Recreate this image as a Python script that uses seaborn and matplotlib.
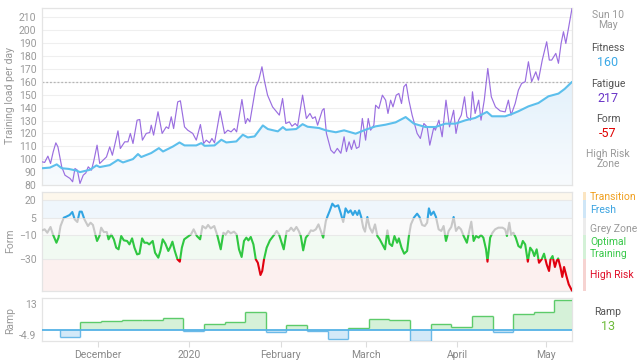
import numpy as np
import pandas as pd
import matplotlib
matplotlib.use('Agg')
import matplotlib.pyplot as plt
import matplotlib.dates as mdates
import matplotlib.transforms as mtransforms
from matplotlib.patches import Rectangle
from matplotlib.colors import LinearSegmentedColormap
import seaborn as sns

sns.set_theme(style='white')
plt.rcParams['font.family'] = ['Roboto', 'DejaVu Sans']

# --- data (days counted from 12 Nov 2019) ---
START = '2019-11-12'
N_DAYS = 180

fitness_day = [0, 2.7, 5, 6.7, 9, 11.7, 12.9, 16.3, 18.5, 19.6, 23, 25.8, 27.5, 30.9, 32.6, 33.7,
               37.1, 39.7, 41.1, 44.5, 46.7, 48.4, 52.4, 54.1, 55.2, 58.6, 60.9, 62.6, 66, 68.2,
               69.9, 72.2, 75, 76.7, 80.1, 81.8, 82.9, 86.3, 88.5, 90.2, 94.1, 96.4, 99.8, 102.6,
               106.5, 109.9, 113.3, 116.7, 120.1, 123.5, 126.3, 130.2, 133.6, 137, 140.4, 143.8,
               147.1, 151.1, 152.8, 157.3, 159.6, 161.8, 165.2, 168.6, 172, 175.4, 177.5, 180]
fitness_val = [93.0, 93.5, 96.0, 93.0, 92.5, 91.2, 90.0, 91.8, 95.2, 93.9, 95.4, 99.5, 97.5, 100.1,
               104.0, 101.7, 104.8, 108.6, 106.0, 109.9, 113.0, 110.7, 110.7, 112.5, 110.4, 110.7,
               115.1, 113.0, 113.8, 119.0, 116.9, 117.7, 126.2, 123.4, 121.6, 124.9, 122.8, 123.4,
               127.2, 125.2, 124.2, 122.4, 120.9, 122.4, 119.8, 122.9, 125.5, 126.8, 128.6, 132.7,
               127.6, 125.0, 125.0, 127.6, 127.6, 130.2, 132.0, 136.7, 133.3, 133.3, 135.1, 137.2,
               141.0, 143.6, 148.8, 150.9, 154.5, 160.0]

fatigue_day = [0, 0.9, 2.0, 2.9, 3.8, 4.7, 5.4, 6.7, 7.8, 9.5, 10.4, 11.2, 12.0, 12.9, 14.0, 14.9,
               15.7, 16.8, 17.6, 18.7, 19.6, 20.8, 21.9, 23.0, 23.9, 25.8, 26.6, 28.1, 29.2, 30.0,
               30.9, 32.3, 33.2, 34.1, 35.4, 36.6, 37.1, 37.9, 39.4, 40.8, 42.2, 43.0, 43.9, 44.7,
               46.1, 47.0, 48.4, 49.5, 51.2, 52.4, 53.8, 54.9, 55.8, 56.9, 57.7, 58.6, 60.5, 62.0,
               63.1, 64.2, 65.3, 66.1, 67.9, 69.1, 69.8, 70.6, 72.6, 73.6, 74.7, 75.5, 76.6, 78.3,
               80.6, 81.7, 82.8, 84.0, 84.9, 86.0, 86.8, 88.5, 89.8, 91.0, 91.9, 92.8, 93.6, 95.2,
               95.8, 96.6, 98.1, 99.2, 100.3, 101.5, 102.6, 103.4, 104.3, 105.1, 106.0, 106.8,
               107.7, 108.8, 109.9, 110.8, 111.6, 112.7, 113.3, 114.4, 115.6, 116.7, 117.5, 118.4,
               119.2, 120.3, 121.2, 122.1, 122.9, 123.7, 124.6, 125.7, 127.4, 128.5, 129.7, 130.8,
               131.7, 133.1, 133.6, 134.8, 135.9, 137.2, 138.4, 139.8, 140.6, 141.5, 142.4, 143.5,
               144.3, 145.5, 146.2, 147.1, 148.3, 149.1, 150.2, 151.4, 152.6, 154.0, 155.6, 157.3,
               158.4, 159.3, 160.7, 161.8, 162.9, 164.1, 165.2, 166.3, 167.7, 168.6, 169.9, 171.4,
               172.3, 173.1, 174.5, 175.4, 176.3, 177.1, 177.9, 180.0]
fatigue_val = [98.0, 97.5, 102.4, 96.7, 105.7, 112.7, 109.6, 94.1, 87.6, 85.1, 82.5, 92.8, 91.5,
               81.2, 87.6, 89.4, 94.1, 91.5, 98.8, 110.9, 96.7, 99.3, 101.8, 109.6, 103.1, 122.0,
               108.3, 113.5, 113.5, 120.0, 112.2, 130.3, 130.8, 114.8, 120.0, 120.7, 126.4, 118.7,
               136.8, 120.0, 125.1, 123.8, 132.9, 123.8, 144.5, 145.3, 125.1, 122.5, 120.0, 114.8,
               126.9, 112.2, 114.8, 112.7, 116.1, 112.7, 137.3, 120.0, 122.5, 121.2, 123.8, 121.2,
               146.3, 127.7, 131.6, 129.0, 156.2, 161.3, 171.7, 161.3, 149.7, 140.6, 134.2, 147.1,
               127.7, 129.0, 125.6, 127.7, 125.6, 149.7, 131.6, 135.5, 131.6, 132.9, 126.4, 138.0,
               139.3, 120.0, 107.1, 104.6, 108.4, 104.6, 117.4, 105.9, 113.5, 107.6, 114.8, 108.4,
               109.6, 131.6, 114.8, 131.6, 122.5, 126.4, 141.9, 139.3, 149.7, 145.8, 135.5, 145.8,
               140.6, 149.7, 151.0, 143.2, 156.2, 158.3, 145.8, 134.2, 120.0, 116.1, 127.7, 125.1,
               110.9, 125.1, 122.5, 130.3, 117.4, 145.8, 125.1, 138.0, 120.0, 130.3, 134.2, 148.4,
               132.9, 130.3, 152.3, 135.5, 145.8, 130.3, 145.8, 170.4, 148.4, 140.6, 137.5, 136.7,
               145.8, 134.2, 143.2, 153.6, 158.8, 160.1, 175.6, 160.1, 167.8, 161.3, 176.9, 191.1,
               176.9, 176.9, 182.1, 174.4, 189.8, 198.9, 189.8, 217.0]

form_day = [0.0, 0.9, 1.8, 2.9, 3.7, 4.9, 5.6, 6.3, 7.4, 8.2, 9.4, 10.3, 11.1, 12.0, 12.8, 13.5,
            14.4, 15.6, 16.5, 17.3, 18.1, 18.7, 19.5, 20.1, 21.0, 22.0, 22.6, 23.5, 24.4, 25.2,
            26.0, 26.9, 27.8, 28.9, 29.7, 30.6, 31.4, 32.3, 33.1, 34.0, 34.8, 35.7, 36.4, 37.6,
            38.4, 39.5, 40.2, 41.0, 41.9, 42.9, 43.6, 44.3, 45.1, 46.0, 46.8, 47.5, 48.3, 49.4,
            50.6, 51.5, 52.6, 53.7, 54.5, 55.6, 56.4, 57.3, 58.5, 59.6, 60.7, 61.6, 62.4, 63.2,
            64.1, 65.2, 66.1, 66.9, 67.8, 68.6, 69.4, 70.1, 70.9, 71.8, 72.6, 73.3, 74.2, 74.8,
            75.4, 76.3, 77.4, 78.8, 79.7, 80.5, 81.4, 82.1, 83.1, 83.8, 84.6, 85.5, 86.4, 87.2,
            87.9, 88.7, 89.6, 90.5, 91.3, 92.1, 93.0, 93.9, 94.7, 95.5, 96.4, 97.0, 97.7, 98.6,
            99.5, 100.6, 101.4, 102.3, 103.1, 104.0, 104.8, 105.6, 106.3, 107.1, 107.7, 108.4,
            109.1, 109.7, 110.5, 111.3, 112.2, 113.1, 113.9, 114.7, 115.6, 116.5, 117.3, 118.0,
            118.9, 119.7, 120.6, 121.2, 122.1, 123.0, 124.0, 124.6, 125.3, 126.3, 127.4, 128.2,
            129.1, 130.0, 130.8, 131.4, 132.1, 133.0, 133.8, 134.7, 135.6, 136.4, 137.2, 138.1,
            139.0, 139.8, 140.6, 141.5, 142.3, 143.2, 144.3, 145.1, 145.8, 146.6, 147.4, 148.3,
            149.1, 149.9, 150.8, 151.3, 152.2, 153.0, 153.9, 155.0, 156.4, 157.3, 157.9, 158.7,
            159.3, 160.1, 160.9, 161.8, 162.6, 163.3, 164.1, 165.0, 165.8, 166.6, 167.2, 168.0,
            168.8, 169.7, 170.5, 171.4, 172.2, 172.7, 173.4, 174.2, 174.8, 175.3, 176.1, 176.7,
            177.3, 178.1, 178.9, 180.0]
form_val = [-5.8, -4.9, -7.8, -2.9, -9.2, -16.3, -12.0, -2.1, 5.0, 5.8, 7.3, 9.8, 3.6, 1.3, 10.1,
            10.1, 3.6, -2.1, 0.7, -1.2, -9.2, -14.8, -10.6, -3.5, -7.2, -7.2, -13.4, -9.2, -13.4,
            -20.5, -21.9, -10.6, -14.3, -14.8, -17.7, -12.6, -20.5, -26.2, -25.6, -12.6, -16.3,
            -16.3, -17.7, -14.8, -24.8, -29.0, -23.3, -13.4, -17.1, -23.3, -19.9, -15.4, -23.3,
            -30.4, -32.4, -20.5, -13.4, -11.4, -9.2, -4.9, -10.6, -13.4, -2.1, -4.1, -1.2, -4.1,
            -2.1, -10.6, -21.9, -7.8, -9.2, -6.3, -8.3, -6.9, -9.2, -21.9, -28.4, -14.8, -12.0,
            -14.3, -11.4, -17.7, -30.4, -33.3, -43.7, -40.3, -30.4, -20.5, -14.3, -9.7, -6.3,
            -9.2, -16.3, -21.9, -6.3, -6.3, -3.5, -6.3, -2.9, -6.3, -10.6, -22.8, -12.0, -9.2,
            -5.8, -6.3, -4.9, -0.7, -6.3, -12.0, 2.2, 6.4, 10.7, 16.9, 14.3, 15.5, 9.2, 1.3, 12.9,
            9.2, 11.2, 7.3, 10.7, 7.3, 11.2, 5.6, -3.5, -6.9, 5.6, -3.5, -7.8, -0.7, -10.6, -13.4,
            -17.7, -21.9, -5.8, -17.1, -19.1, -10.6, -16.3, -12.6, -20.5, -25.6, -23.3, -10.6,
            -0.7, 5.0, 8.4, 5.6, -1.2, -2.1, 0.7, 12.9, 7.3, 10.1, 5.6, -4.9, -6.3, -2.1, -14.8,
            -6.3, -2.9, 5.6, -6.3, -2.9, -4.9, -10.6, -16.3, -6.3, 1.6, -14.8, -10.6, -12.0, -9.7,
            -12.0, -21.9, -32.4, -12.0, -7.8, -4.9, -3.5, -3.5, -4.9, -10.6, 0.7, -9.2, -7.8,
            -12.0, -19.1, -20.5, -14.8, -17.7, -32.4, -20.5, -23.3, -27.6, -21.9, -33.3, -30.4,
            -25.6, -34.7, -40.3, -30.4, -27.6, -36.9, -31.8, -29.6, -37.5, -45.4, -36.9, -44.6,
            -51.7, -57.0]

ramp_week = ['2019-11-18', '2019-11-25', '2019-12-02', '2019-12-09', '2019-12-16', '2019-12-23',
             '2019-12-30', '2020-01-06', '2020-01-13', '2020-01-20', '2020-01-27', '2020-02-03',
             '2020-02-10', '2020-02-17', '2020-02-24', '2020-03-02', '2020-03-09', '2020-03-16',
             '2020-03-23', '2020-03-30', '2020-04-06', '2020-04-13', '2020-04-20', '2020-04-27',
             '2020-05-04']
ramp_val = [-3.3, 3.4, 3.8, 4.4, 4.4, 5.1, -0.7, 2.7, 3.4, 8.1, -1.1, 2.0, -0.4, -3.8, 0.8,
            4.7, 4.3, -4.9, 2.7, 1.3, 6.1, -1.1, 7.2, 7.7, 13.0]

zone_names = ['Transition', 'Fresh', 'Grey Zone', 'Optimal\nTraining', 'High Risk']
zone_lo = [20, 5, -10, -30, -100]
zone_hi = [100, 20, 5, -10, -30]

month_ticks = ['2019-12-01', '2020-01-01', '2020-02-01', '2020-03-01', '2020-04-01', '2020-05-01']
month_labels = ['December', '2020', 'February', 'March', 'April', 'May']

# --- styles ---
C_FIT = '#5cbfec'
C_FAT = '#9a6ee0'
C_FORM_LINE = ['#f0a030', '#31a5e3', '#c8c8c8', '#2fc741', '#e1000f']
C_ZONE_BG = ['#fdf7ec', '#eff6fc', '#fafafa', '#f1faf2', '#fcf0ef']
C_ZONE_STRIP = ['#fbe5c2', '#cfe6f7', '#ececec', '#d4f1d7', '#f6d3d1']
C_ZONE_TEXT = ['#f0a020', '#3aa3e0', '#9a9a9a', '#39c84a', '#e0102a']
C_POS_FILL, C_POS_EDGE = '#d5f1d8', '#5ccb6a'
C_NEG_FILL, C_NEG_EDGE = '#d3e9f8', '#6bb9e8'
C_SPINE = '#e4e4e4'
C_TICK = '#9a9a9a'

W, H = 639, 363
t0 = mdates.date2num(pd.Timestamp(START))


def to_x(days):
    return t0 + np.asarray(days, dtype=float)


def box(l, t, r, b):
    return [l / W, 1 - b / H, (r - l) / W, (b - t) / H]


def ftext(x, y, s, **kw):
    kw.setdefault('ha', 'center')
    kw.setdefault('va', 'center')
    fig.text(x / W, 1 - y / H, s, **kw)


fig = plt.figure(figsize=(W / 100, H / 100), dpi=100)
ax1 = fig.add_axes(box(42, 8, 572, 185))
ax2 = fig.add_axes(box(42, 192, 572, 291))
ax3 = fig.add_axes(box(42, 298, 572, 341))

x_lim = (t0, t0 + N_DAYS)
TOP_LIM = (80, 217.3)
FORM_LIM = (-57.3, 26.8)

# --- top: fitness & fatigue ---
df_fit = pd.DataFrame({'x': to_x(fitness_day), 'y': fitness_val})
df_fat = pd.DataFrame({'x': to_x(fatigue_day), 'y': fatigue_val})

poly = ax1.fill_between(df_fit['x'], TOP_LIM[0], df_fit['y'], facecolor='none', edgecolor='none')
grad = np.linspace(1, 0, 256).reshape(-1, 1)
cmap = LinearSegmentedColormap.from_list('fitfill', ['#f8fbfe', '#d5eaf9'])
im = ax1.imshow(grad, cmap=cmap, aspect='auto', origin='upper', zorder=1,
                extent=[x_lim[0], x_lim[1], TOP_LIM[0], TOP_LIM[1]], vmin=0, vmax=1)
im.set_clip_path(poly.get_paths()[0], transform=ax1.transData)

ax1.axhline(160, color='#b5b5b5', lw=0.9, ls=(0, (1.5, 1.5)), zorder=2)
sns.lineplot(data=df_fat, x='x', y='y', ax=ax1, color=C_FAT, lw=0.85, zorder=3)
sns.lineplot(data=df_fit, x='x', y='y', ax=ax1, color=C_FIT, lw=1.5, zorder=4)

ax1.set_ylim(*TOP_LIM)
ax1.set_yticks(range(80, 211, 10))
ax1.grid(axis='y', color='#efefef', lw=0.8)
ax1.set_axisbelow(True)

# --- middle: form by zone ---
for lo, hi, bg in zip(zone_lo, zone_hi, C_ZONE_BG):
    ax2.axhspan(lo, hi, color=bg, lw=0, zorder=0)

blend = mtransforms.blended_transform_factory(ax2.transAxes, ax2.transData)
df_form = pd.DataFrame({'x': to_x(form_day), 'y': form_val})
for lo, hi, c in zip(zone_lo, zone_hi, C_FORM_LINE):
    sns.lineplot(data=df_form, x='x', y='y', ax=ax2, color=c, lw=1.5, zorder=3)
    clip = Rectangle((0, lo), 1, hi - lo, transform=blend)
    ax2.lines[-1].set_clip_path(clip)

ax2.set_ylim(*FORM_LIM)
ax2.set_yticks([20, 5, -10, -30])
ax2.grid(axis='y', color='#e9e9e9', lw=0.8)

# --- bottom: ramp as a weekly step area ---
wx = mdates.date2num(pd.to_datetime(ramp_week))
rv = np.asarray(ramp_val)
fills = [C_POS_FILL if v >= 0 else C_NEG_FILL for v in rv]
edges = [C_POS_EDGE if v >= 0 else C_NEG_EDGE for v in rv]
ax3.bar(wx, rv, width=7, align='edge', color=fills, lw=0, zorder=2)
ax3.hlines(rv, wx, wx + 7, colors=edges, lw=1.0, zorder=3)
# risers between consecutive weeks, split at zero by sign colour
prev = np.concatenate([[0.0], rv[:-1]])
lo_v, hi_v = np.minimum(prev, rv), np.maximum(prev, rv)
ax3.vlines(wx, np.maximum(lo_v, 0), np.maximum(hi_v, 0), colors=C_POS_EDGE, lw=1.0, zorder=3)
ax3.vlines(wx, np.minimum(lo_v, 0), np.minimum(hi_v, 0), colors=C_NEG_EDGE, lw=1.0, zorder=3)
ax3.axhline(0, color='#55b2e6', lw=1.3, zorder=4)
ax3.set_ylim(-4.9, 14.1)
ax3.set_yticks([13, -4.9])
ax3.set_yticklabels(['13', '-4.9'])
ax3.get_yticklabels()[0].set_va('top')
ax3.get_yticklabels()[1].set_va('bottom')

ax3.set_xticks(mdates.date2num(pd.to_datetime(month_ticks)))
ax3.set_xticklabels(month_labels)
ax3.tick_params(axis='x', bottom=True, length=4, width=0.8, color='#dcdcdc',
                labelsize=7.5, labelcolor='#888888', pad=2.5)

for ax in (ax1, ax2, ax3):
    ax.set_xlim(*x_lim)
    ax.set_xlabel('')
    ax.set_ylabel('')
    ax.tick_params(axis='y', left=False, length=0, labelsize=7.5, labelcolor=C_TICK, pad=4)
    for sp in ax.spines.values():
        sp.set_visible(True)
        sp.set_color(C_SPINE)
        sp.set_linewidth(0.9)
for ax in (ax1, ax2):
    ax.tick_params(axis='x', bottom=False, labelbottom=False)

# zone colour strip
axs = fig.add_axes(box(583, 192, 586, 291))
for lo, hi, c in zip(zone_lo, zone_hi, C_ZONE_STRIP):
    axs.axhspan(lo, hi, color=c, lw=0)
axs.set_ylim(*FORM_LIM)
axs.axis('off')

# --- texts ---
ftext(10, 96, 'Training load per day', rotation=90, color='#999999', fontsize=7.5)
ftext(10, 241, 'Form', rotation=90, color='#999999', fontsize=7.5)
ftext(10, 320, 'Ramp', rotation=90, color='#999999', fontsize=7.5)

ftext(608, 20, 'Sun 10\nMay', color='#9a9a9a', fontsize=7.5, linespacing=0.95)
ftext(608, 48, 'Fitness', color='#555555', fontsize=7.5)
ftext(608, 62.5, f'{fitness_val[-1]:.0f}', color='#3aa8e6', fontsize=9)
ftext(608, 84, 'Fatigue', color='#555555', fontsize=7.5)
ftext(608, 98.5, f'{fatigue_val[-1]:.0f}', color='#6a35c8', fontsize=9)
ftext(608, 119, 'Form', color='#555555', fontsize=7.5)
ftext(608, 134, f'{form_val[-1]:.0f}', color='#e00000', fontsize=9)
ftext(608, 159, 'High Risk\nZone', color='#9a9a9a', fontsize=7.5, linespacing=0.95)

zone_text_y = [197.5, 210, 228.5, 248, 275]
for name, y, c in zip(zone_names, zone_text_y, C_ZONE_TEXT):
    ftext(590, y, name, color=c, fontsize=7.5, ha='left', linespacing=1.15)

ftext(608, 312, 'Ramp', color='#555555', fontsize=7.5)
ftext(608, 326, f'{ramp_val[-1]:.0f}', color='#6dbb3a', fontsize=9)

fig.savefig('out.png', dpi=100)
